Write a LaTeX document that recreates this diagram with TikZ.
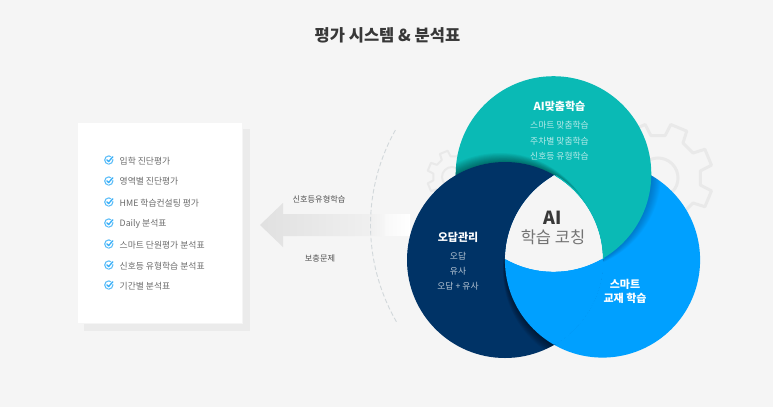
\documentclass[tikz,border=0pt]{standalone}
\usepackage{fontspec}
\setmainfont{Noto Sans CJK KR}
\definecolor{pagebg}{HTML}{F5F5F5}
\definecolor{tealc}{HTML}{0ABAB5}
\definecolor{navyc}{HTML}{003366}
\definecolor{bluec}{HTML}{00A0FF}
\definecolor{gearc}{HTML}{E9E9E9}
\definecolor{checkc}{HTML}{35AEF8}
\definecolor{dashc}{HTML}{D2D8DB}
\pgfdeclarehorizontalshading{arrowshade}{100bp}{color(0bp)=(black!12);color(25bp)=(black!12);color(61.7bp)=(black!6);color(66bp)=(pagebg);color(66.8bp)=(black!2.5);color(75bp)=(white);color(100bp)=(white)}
\newcommand{\gearpath}[5]{% cx cy outer root ring
  \draw[gearline,line width=#5]
    ({#1+#3*cos(22.5-9)},{#2+#3*sin(22.5-9)})
    \foreach \k in {0,...,7}{
      -- ({#1+#3*cos(22.5+45*\k-9)},{#2+#3*sin(22.5+45*\k-9)})
      -- ({#1+#3*cos(22.5+45*\k+9)},{#2+#3*sin(22.5+45*\k+9)})
      -- ({#1+#4*cos(22.5+45*\k+13)},{#2+#4*sin(22.5+45*\k+13)})
      -- ({#1+#4*cos(22.5+45*\k+32)},{#2+#4*sin(22.5+45*\k+32)})
    } -- cycle;
}
\newcommand{\seamarc}[6]{% colour cx cy r from to
  \draw[#1,line width=1.1pt] plot[domain=#5:#6,samples=40,smooth] ({#2+#4*cos(\x)},{#3+#4*sin(\x)});
}
\tikzset{
  x=1pt,y=-1pt,
  gearline/.style={draw=gearc,line join=round},
  heading/.style={font=\bfseries\fontsize{16.5}{18}\selectfont,text=black!78},
  itemtext/.style={anchor=west,font=\fontsize{8.8}{10}\selectfont,text=black!58,inner sep=0pt},
  sidetext/.style={font=\fontsize{8.2}{10}\selectfont,text=black!68,inner sep=0pt},
  circtitle/.style={font=\bfseries\fontsize{11}{14}\selectfont,text=white,inner sep=0pt,align=center},
  tealtext/.style={font=\fontsize{8.8}{10}\selectfont,text=white!70!tealc,inner sep=0pt},
  navytext/.style={font=\fontsize{8.8}{10}\selectfont,text=white!72!navyc,inner sep=0pt},
  checkring/.style={draw=checkc!80,line width=1.1pt},
  checkmark/.style={draw=checkc,line width=1.3pt,line cap=round,line join=round},
}
\begin{document}
\begin{tikzpicture}
\useasboundingbox (0,0) rectangle (773,407);
\fill[pagebg] (0,0) rectangle (773,407);

% background gears
\gearpath{658}{178}{55}{43}{3pt}
\draw[gearc,line width=3pt] (658,178) circle (20pt);
\gearpath{454}{177}{27}{21}{2pt}
\draw[gearc,line width=2pt] (452,177) circle (10pt);

% card
\fill[black!8] (83.5,129) rectangle (250,331);
\fill[white,draw=black!4,line width=0.5pt] (77,122) rectangle (242.5,323);

% list
\foreach \i/\yy/\txt in {1/160/입학 진단평가,2/181/영역별 진단평가,3/202/HME 학습컨설팅 평가,4/223/Daily 분석표,5/244/스마트 단원평가 분석표,6/265/신호등 유형학습 분석표,7/285/기간별 분석표}{
  \draw[checkring] (108.8,\yy) circle (4.1pt);
  \draw[white,line width=2.6pt] (107,\yy-0.2) -- (108.7,\yy+1.6) -- (113.2,\yy-3.6);
  \draw[checkmark] (106.9,\yy-0.2) -- (108.6,\yy+1.6) -- (112.8,\yy-3.2);
  \node[itemtext] (item\i) at (119.5,\yy+0.7) {\txt};
}

% arrow
\shade[shading=arrowshade] (260,225) -- (283,203) -- (283,214) -- (410,214) -- (410,236) -- (283,236) -- (283,247) -- cycle;
\node[sidetext] (arrowtop) at (319,199.5) {신호등유형학습};
\node[sidetext] (arrowbot) at (320,258.5) {보충문제};

% dashed arc
\draw[draw=dashc,line width=0.9pt,dash pattern=on 4.5pt off 2.5pt]
  plot[domain=150:210,samples=50,smooth] ({564+193.5*cos(\x)},{225+193.5*sin(\x)});

% blue circle
\fill[bluec] (602.5,260) circle (97.6pt);
% teal shadow on blue
\begin{scope}
  \clip (602.5,260) circle (97.6pt);
  \foreach \t in {1,...,10}{
    \fill[navyc,opacity=0.035] ({553.5+\t},{174-0.1*\t}) circle (97.8pt);
  }
\end{scope}
% teal circle
\fill[tealc] (553.5,174) circle (97.8pt);
% navy shadow on teal
\begin{scope}
  \clip (553.5,174) circle (97.8pt);
  \foreach \t in {1,...,10}{
    \fill[black,opacity=0.045] ({505-0.5*\t},{260-0.9*\t}) circle (98pt);
  }
\end{scope}
% navy circle
\fill[navyc] (505,260) circle (98pt);
% blue shadow on navy, and blue over navy
\begin{scope}
  \clip (505,260) circle (98pt);
  \foreach \t in {1,...,10}{
    \fill[black,opacity=0.05] ({602.5-0.2*\t},{260+1.0*\t}) circle (97.6pt);
  }
  \fill[bluec] (602.5,260) circle (97.6pt);
  % triple overlap
  \clip (553.5,174) circle (97.8pt);
  \fill[pagebg] (602.5,260) circle (97.6pt);
\end{scope}
% cover the hairlines that the clipped fills leave on their edges
\seamarc{bluec}{505}{260}{98}{1}{59}
\seamarc{tealc}{505}{260}{98.5}{-59}{-0.5}
\seamarc{bluec}{553.5}{174}{98.4}{61}{119}
\seamarc{navyc}{602.5}{260}{98.2}{181}{239}

% texts
\node[heading] (title) at (387.5,35) {평가 시스템 \& 분석표};

\node[circtitle] (aititle) at (559.5,106.3) {AI맞춤학습};
\node[tealtext] (ai1) at (559.5,125.3) {스마트 맞춤학습};
\node[tealtext] (ai2) at (559.5,140.7) {주차별 맞춤학습};
\node[tealtext] (ai3) at (559.5,156) {신호등 유형학습};

\node[circtitle] (wrongtitle) at (458,237.5) {오답관리};
\node[navytext] (w1) at (458,256) {오답};
\node[navytext] (w2) at (458,271.5) {유사};
\node[navytext] (w3) at (458,286.5) {오답 + 유사};

\node[circtitle] (smart) at (625,291.5) {스마트\\교재 학습};

\node[font=\bfseries\fontsize{18}{20}\selectfont,text=black!78,inner sep=0pt] (coreA) at (553,217.5) {AI};
\node[font=\fontsize{16.5}{18}\selectfont,text=black!55,inner sep=0pt] (coreB) at (553,237.5) {학습 코칭};
\end{tikzpicture}
\end{document}
